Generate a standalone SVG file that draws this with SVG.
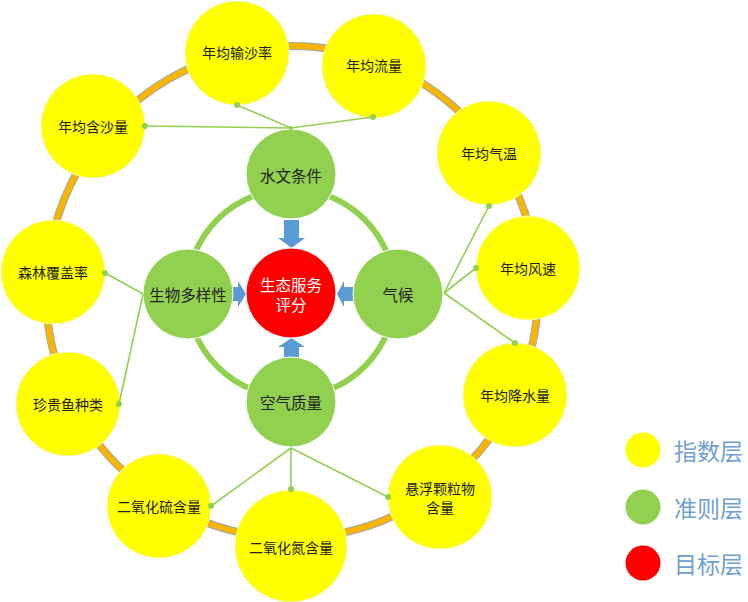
<svg xmlns="http://www.w3.org/2000/svg" width="748" height="602" viewBox="0 0 748 602">
<defs>
<style>
.y{fill:#FFFF00;stroke:#F4F4C0;stroke-width:1}
.g{fill:#92D050;stroke:#FFFFFF;stroke-width:1}
.r{fill:#FF0000;stroke:#FFFFFF;stroke-width:1}
text{font-family:"Noto Sans CJK SC","Noto Sans",sans-serif;text-anchor:middle;dominant-baseline:central}
.ty{font-size:14px;fill:#222222}
.tg{font-size:15.5px;fill:#222222}
.tr{font-size:15.5px;fill:#FFFFFF}
.tl{font-size:23px;fill:#6FA0D2;text-anchor:start}
.cl{stroke:#92D050;stroke-width:1.6;fill:none}
.dot{fill:#92D050}
.arr{fill:#5B9BD5}
</style>
</defs>
<rect width="748" height="602" fill="#FFFFFF"/>
<g id="rings">
<circle cx="292" cy="292" r="246" fill="none" stroke="#A0A8B4" stroke-width="8"/>
<circle cx="292" cy="292" r="246" fill="none" stroke="#F7B500" stroke-width="6"/>
<circle cx="291" cy="293" r="104" fill="none" stroke="#92D050" stroke-width="6"/>
</g>
<g id="arrows">
<polygon class="arr" points="284,220 299,220 299,238 305,238 291.5,248 278,238 284,238"/>
<polygon class="arr" points="284,357 299,357 299,347 305,347 291.5,338 278,347 284,347"/>
<polygon class="arr" points="233,287 238,287 238,281 246,294 238,307 238,301 233,301"/>
<polygon class="arr" points="353,287 344,287 344,281 337,294 344,307 344,301 353,301"/>
</g>
<g id="n-target"><circle class="r" cx="291" cy="293" r="45"/><text class="tr" x="291" y="284">生态服务</text><text class="tr" x="291" y="304">评分</text></g>
<g id="n-hydro"><circle class="g" cx="291" cy="174" r="45"/><text class="tg" x="291" y="175">水文条件</text></g>
<g id="n-bio"><circle class="g" cx="188" cy="294" r="45"/><text class="tg" x="188" y="294">生物多样性</text></g>
<g id="n-climate"><circle class="g" cx="398" cy="294" r="45"/><text class="tg" x="398" y="294">气候</text></g>
<g id="n-air"><circle class="g" cx="291" cy="402" r="45"/><text class="tg" x="291" y="402">空气质量</text></g>
<g id="n-sed-rate"><circle class="y" cx="237" cy="53" r="52"/><text class="ty" x="237" y="52">年均输沙率</text></g>
<g id="n-flow"><circle class="y" cx="374" cy="66" r="52"/><text class="ty" x="374" y="65">年均流量</text></g>
<g id="n-sed-content"><circle class="y" cx="93" cy="126" r="52"/><text class="ty" x="93" y="126">年均含沙量</text></g>
<g id="n-temp"><circle class="y" cx="489" cy="153" r="52"/><text class="ty" x="489" y="153">年均气温</text></g>
<g id="n-wind"><circle class="y" cx="528" cy="268" r="52"/><text class="ty" x="528" y="268">年均风速</text></g>
<g id="n-rain"><circle class="y" cx="515" cy="395" r="52"/><text class="ty" x="515" y="395">年均降水量</text></g>
<g id="n-pm"><circle class="y" cx="440" cy="497" r="52"/><text class="ty" x="440" y="488">悬浮颗粒物</text><text class="ty" x="440" y="507">含量</text></g>
<g id="n-no2"><circle class="y" cx="291" cy="546" r="56"/><text class="ty" x="291" y="547">二氧化氮含量</text></g>
<g id="n-so2"><circle class="y" cx="159" cy="506" r="52"/><text class="ty" x="159" y="506">二氧化硫含量</text></g>
<g id="n-fish"><circle class="y" cx="68" cy="404" r="52"/><text class="ty" x="68" y="404">珍贵鱼种类</text></g>
<g id="n-forest"><circle class="y" cx="53" cy="272" r="52"/><text class="ty" x="53" y="272">森林覆盖率</text></g>
<g id="connectors">
<polyline class="cl" points="237,105 291,128 373,117"/>
<line class="cl" x1="145" y1="126" x2="291" y2="128"/>
<line class="cl" x1="444" y1="293" x2="489" y2="206"/>
<line class="cl" x1="444" y1="293" x2="476" y2="268"/>
<line class="cl" x1="444" y1="293" x2="515" y2="343"/>
<line class="cl" x1="143" y1="294" x2="105" y2="273"/>
<line class="cl" x1="143" y1="294" x2="119" y2="404"/>
<line class="cl" x1="291" y1="448" x2="211" y2="506"/>
<line class="cl" x1="291" y1="448" x2="291" y2="489"/>
<line class="cl" x1="291" y1="448" x2="388" y2="497"/>
<circle class="dot" cx="237" cy="105" r="3"/>
<circle class="dot" cx="373" cy="117" r="3"/>
<circle class="dot" cx="145" cy="126" r="3"/>
<circle class="dot" cx="291" cy="128" r="2"/>
<circle class="dot" cx="489" cy="206" r="3"/>
<circle class="dot" cx="476" cy="268" r="3"/>
<circle class="dot" cx="515" cy="343" r="3"/>
<circle class="dot" cx="105" cy="273" r="3"/>
<circle class="dot" cx="119" cy="404" r="3"/>
<circle class="dot" cx="211" cy="506" r="3"/>
<circle class="dot" cx="291" cy="489" r="3"/>
<circle class="dot" cx="388" cy="497" r="3"/>
</g>
<g id="legend">
<circle cx="643" cy="450" r="17.5" fill="#FFFF00"/>
<circle cx="643" cy="507" r="17.5" fill="#92D050"/>
<circle cx="643" cy="563" r="17.5" fill="#FF0000"/>
<text class="tl" x="674" y="450">指数层</text>
<text class="tl" x="674" y="507">准则层</text>
<text class="tl" x="674" y="563">目标层</text>
</g>
</svg>
